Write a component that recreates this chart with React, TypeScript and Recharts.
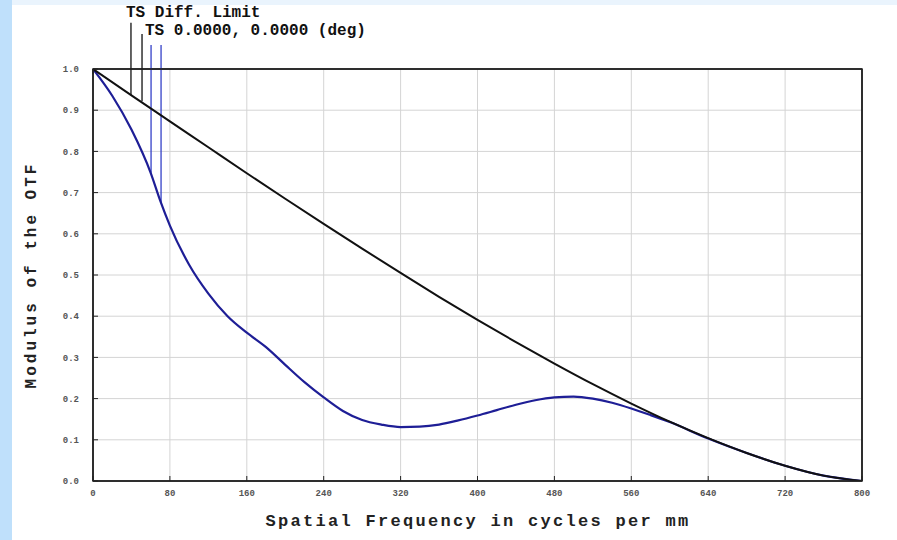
import { LineChart, Line, XAxis, YAxis, CartesianGrid, ReferenceLine, ReferenceArea } from 'recharts'

const X_TICKS = [0, 80, 160, 240, 320, 400, 480, 560, 640, 720, 800]
const Y_TICKS = [0, 0.1, 0.2, 0.3, 0.4, 0.5, 0.6, 0.7, 0.8, 0.9, 1.0]

// diffraction limit
const DIFF_FREQ = [0, 40, 80, 120, 160, 200, 240, 280, 320, 360, 400, 440, 480, 520, 560, 600, 640, 680, 720, 760, 800]
const DIFF_MTF = [1.0, 0.936, 0.873, 0.81, 0.747, 0.685, 0.624, 0.564, 0.505, 0.447, 0.391, 0.337, 0.285, 0.235, 0.188, 0.144, 0.104, 0.068, 0.037, 0.013, 0]

// TS 0.0000, 0.0000 (deg)
const TS_FREQ = [0, 20, 40, 60, 70, 80, 100, 120, 140, 160, 180, 200, 220, 240, 260, 280, 300, 320, 340, 360, 380, 400, 420, 440, 460, 480, 500, 520, 540, 560, 580, 600, 640, 680, 720, 760, 800]
const TS_MTF = [1.0, 0.935, 0.853, 0.748, 0.68, 0.62, 0.525, 0.455, 0.4, 0.36, 0.325, 0.282, 0.24, 0.203, 0.17, 0.148, 0.137, 0.131, 0.132, 0.137, 0.147, 0.159, 0.172, 0.185, 0.196, 0.203, 0.205, 0.2, 0.19, 0.176, 0.16, 0.143, 0.103, 0.068, 0.037, 0.013, 0]

// legend leader lines: [frequency, top, bottom, colour]
const LEADERS: [number, number, number, string][] = [
  [39.5, 1.112, 0.937, '#111'],
  [51, 1.085, 0.922, '#111'],
  [60.4, 1.058, 0.748, '#3440c8'],
  [70.8, 1.058, 0.676, '#3440c8'],
]

const diffData = DIFF_FREQ.map((f, i) => ({ f, v: DIFF_MTF[i] }))
const tsData = TS_FREQ.map((f, i) => ({ f, v: TS_MTF[i] }))

const MONO = '"Liberation Mono", "DejaVu Sans Mono", monospace'
const tickStyle = { fontSize: 9, fill: '#555', fontWeight: 700, fontFamily: MONO }
const noTick = () => null

export default function App() {
  return (
    <div style={{ position: 'absolute', left: 0, top: 0, width: 897, height: 540, background: '#bfe0fb' }}>
      <div style={{ position: 'absolute', left: 12, top: 0, width: 885, height: 540, background: '#fff' }} />
      <div style={{ position: 'absolute', left: 12, top: 0, width: 885, height: 5, background: '#eaf4fd' }} />
      <div style={{ position: 'absolute', left: 0, top: 0 }}>
        <LineChart width={897} height={540} data={diffData} margin={{ top: 68, right: 34, left: 0, bottom: 0 }}>
          <CartesianGrid stroke="#d4d4d4" strokeWidth={1} />
          <XAxis
            dataKey="f"
            type="number"
            domain={[0, 800]}
            ticks={X_TICKS}
            height={59}
            tickSize={-5}
            tickMargin={14}
            tick={tickStyle}
            stroke="#222"
            axisLine={{ stroke: '#222', strokeWidth: 1.5 }}
            allowDataOverflow
          />
          <XAxis xAxisId="top" orientation="top" type="number" domain={[0, 800]} ticks={X_TICKS} height={1} tickSize={-5} tick={noTick} stroke="#222" axisLine={{ stroke: '#222', strokeWidth: 1.5 }} />
          <YAxis
            type="number"
            domain={[0, 1]}
            ticks={Y_TICKS}
            width={93}
            tickSize={-5}
            tickMargin={19}
            tick={tickStyle}
            tickFormatter={(v: number) => v.toFixed(1)}
            stroke="#222"
            axisLine={{ stroke: '#222', strokeWidth: 1.5 }}
            allowDataOverflow
          />
          <YAxis yAxisId="right" orientation="right" type="number" domain={[0, 1]} ticks={Y_TICKS} width={1} tickSize={-5} tick={noTick} stroke="#222" axisLine={{ stroke: '#222', strokeWidth: 1.5 }} />
          <ReferenceArea x1={0} x2={800} y1={0} y2={1} fill="none" stroke="#222" strokeWidth={1.5} />
          {LEADERS.map(([x, top, bottom, color], i) => (
            <ReferenceLine
              key={i}
              segment={[{ x, y: top }, { x, y: bottom }]}
              stroke={color}
              strokeWidth={1.3}
              ifOverflow="visible"
            />
          ))}
          <Line data={tsData} dataKey="v" type="monotone" stroke="#1e1e96" strokeWidth={2.2} dot={false} isAnimationActive={false} />
          <Line data={diffData} dataKey="v" type="monotone" stroke="#111" strokeWidth={2} dot={false} isAnimationActive={false} />
        </LineChart>
      </div>
      <div style={{ position: 'absolute', left: 126, top: 4, fontFamily: MONO, fontSize: 16, fontWeight: 700, color: '#111', lineHeight: '18px', whiteSpace: 'pre' }}>
        TS Diff. Limit
      </div>
      <div style={{ position: 'absolute', left: 145, top: 22, fontFamily: MONO, fontSize: 16, fontWeight: 700, color: '#111', lineHeight: '18px', whiteSpace: 'pre' }}>
        TS 0.0000, 0.0000 (deg)
      </div>
      <div style={{ position: 'absolute', left: 0, top: 512, width: 956, textAlign: 'center', fontFamily: MONO, fontSize: 17, fontWeight: 700, letterSpacing: 2.3, color: '#222', whiteSpace: 'pre' }}>
        Spatial Frequency in cycles per mm
      </div>
      <div style={{ position: 'absolute', left: 32, top: 275, transform: 'translate(-50%, -50%) rotate(-90deg)', fontFamily: MONO, fontSize: 16, fontWeight: 700, letterSpacing: 3, color: '#222', whiteSpace: 'pre' }}>
        Modulus of the OTF
      </div>
    </div>
  )
}
